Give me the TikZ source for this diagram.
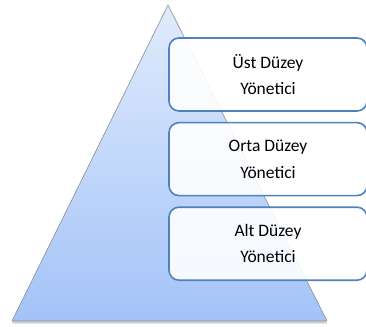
\documentclass[tikz,border=0pt]{standalone}
\usepackage{fontspec}
\setmainfont{Carlito}
\usepackage{xcolor}
\usetikzlibrary{positioning, shadows}

\definecolor{pyrtop}{RGB}{224,235,252}
\definecolor{pyrbot}{RGB}{163,195,248}
\definecolor{boxline}{RGB}{79,129,189}

\tikzset{
    level/.style={draw=boxline, line width=1.6pt, rounded corners=10pt,
        fill=white, fill opacity=0.9, text opacity=1,
        minimum width=198pt, minimum height=73pt, align=center,
        font=\fontsize{17.5}{26.5}\selectfont}
}

\begin{document}
\begin{tikzpicture}[x=1pt, y=-1pt]
    \useasboundingbox (0,0) rectangle (366,326);

    % Pyramid
    \coordinate (apex) at (168,5);
    \coordinate (bl) at (12,321);
    \coordinate (br) at (327,321);
    \shade[top color=pyrtop, bottom color=pyrbot, draw=gray!90, line width=0.6pt,
        drop shadow={opacity=0.35, shadow xshift=0pt, shadow yshift=-2.5pt}]
        (apex) -- (br) -- (bl) -- cycle;

    % Levels
    \node[level] (top) at (268,74.5) {Üst Düzey\\Yönetici};
    \node[level, below=10pt of top] (mid) {Orta Düzey\\Yönetici};
    \node[level, below=10pt of mid] (low) {Alt Düzey\\Yönetici};
\end{tikzpicture}
\end{document}
